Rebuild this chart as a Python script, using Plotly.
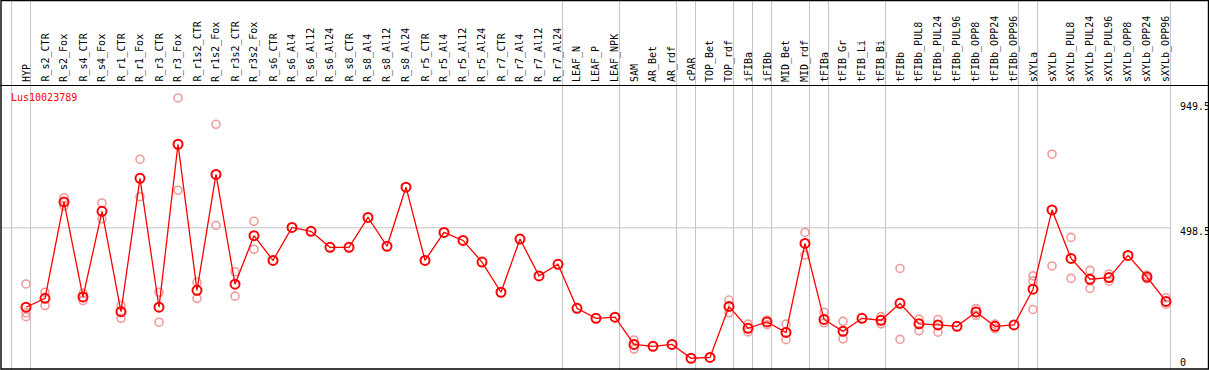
import plotly.graph_objects as go

samples = ["HYP", "R_s2_CTR", "R_s2_Fox", "R_s4_CTR", "R_s4_Fox", "R_r1_CTR", "R_r1_Fox",
           "R_r3_CTR", "R_r3_Fox", "R_r1s2_CTR", "R_r1s2_Fox", "R_r3s2_CTR", "R_r3s2_Fox",
           "R_s6_CTR", "R_s6_Al4", "R_s6_Al12", "R_s6_Al24", "R_s8_CTR", "R_s8_Al4", "R_s8_Al12",
           "R_s8_Al24", "R_r5_CTR", "R_r5_Al4", "R_r5_Al12", "R_r5_Al24", "R_r7_CTR", "R_r7_Al4",
           "R_r7_Al12", "R_r7_Al24", "LEAF_N", "LEAF_P", "LEAF_NPK", "SAM", "AR_Bet", "AR_rdf",
           "cPAR", "TOP_Bet", "TOP_rdf", "iFIBa", "iFIBb", "MID_Bet", "MID_rdf", "tFIBa",
           "tFIB_Gr", "tFIB_Li", "tFIB_Bi", "tFIBb", "tFIBb_PUL8", "tFIBb_PUL24", "tFIBb_PUL96",
           "tFIBb_OPP8", "tFIBb_OPP24", "tFIBb_OPP96", "sXYLa", "sXYLb", "sXYLb_PUL8",
           "sXYLb_PUL24", "sXYLb_PUL96", "sXYLb_OPP8", "sXYLb_OPP24", "sXYLb_OPP96"]

mean_expr = [212, 244, 592, 249, 558, 196, 677, 212, 800, 273, 691, 295, 470, 381, 500,
             486, 428, 428, 536, 432, 645, 381, 482, 453, 375, 266, 458, 325, 367,
             208, 172, 176, 78, 71, 78, 28, 31, 215, 136, 159, 121, 442, 168, 125, 172, 165, 226,
             152, 148, 143, 195, 143, 148, 277, 563, 388, 313, 319, 399, 321, 233]

N = None
rep_a = [296, 266, 607, 262, 588, 218, 746, 266, 967, 302, 872, 340, 522,
         N, N, N, N, N, N, N, N, N, N, N, N, N, N, N, N, N, N, N,
         94, N, N, N, N, 238, 151, 166, 151, 482, 194, 161, N, 178, 352,
         169, 168, N, 207, 151, N, 325, 764, 464, 345, 332, N, 327, 246]
rep_b = [192, 218, 577, 236, 531, 172, 611, 158, 634, 244, 507, 252, 421,
         N, N, N, N, N, N, N, N, N, N, N, N, N, N, N, N, N, N, N,
         61, N, N, N, N, 192, 123, 149, 95, 400, 156, 98, N, 152, 96,
         127, 122, N, 183, 135, N, 307, 361, 316, 280, 306, N, 315, 222]
rep_c = [178] + [N] * 52 + [204] + [N] * 7

# sample index before which a separator line is drawn
separators = [0, 1, 29, 32, 35, 36, 38, 39, 40, 42, 43, 46, 53, 54, 61]

y_ticks = [949.5, 498.5, 0]
gene = "Lus10023789"

W, H = 1209, 370
x_idx = list(range(len(samples)))

fig = go.Figure()
pink = "rgb(240,155,155)"
for reps in (rep_a, rep_b, rep_c):
    fig.add_trace(go.Scatter(x=x_idx, y=reps, mode="markers",
                             marker=dict(symbol="circle-open", size=8,
                                         line=dict(color=pink, width=1.6), color=pink),
                             hoverinfo="skip", showlegend=False))
fig.add_trace(go.Scatter(x=x_idx, y=mean_expr, mode="lines+markers",
                         line=dict(color="#ff0000", width=1.3),
                         marker=dict(symbol="circle-open", size=9, color="#ff0000",
                                     line=dict(color="#ee0000", width=2)),
                         showlegend=False))

shapes = []
for s in separators:
    shapes.append(dict(type="line", xref="x", yref="paper", x0=s - 0.76, x1=s - 0.76,
                       y0=0, y1=1, line=dict(color="#c4c4c4", width=1), layer="below"))
# horizontal grid line at middle tick
shapes.append(dict(type="line", xref="paper", yref="y", x0=1 / W, x1=1170.7 / W,
                   y0=498.5, y1=498.5, line=dict(color="#c4c4c4", width=1), layer="below"))
# label separator and frame
shapes.append(dict(type="line", xref="paper", yref="paper", x0=0, x1=1,
                   y0=(H - 85.5) / H, y1=(H - 85.5) / H, line=dict(color="black", width=1.2)))
shapes.append(dict(type="rect", xref="paper", yref="paper", x0=1 / W, x1=1208.5 / W,
                   y0=1 / H, y1=1 - 0.5 / H, line=dict(color="black", width=1.4)))

annotations = []
for i, name in enumerate(samples):
    annotations.append(dict(x=i, y=(H - 84) / H, xref="x", yref="paper", text=name,
                            textangle=-90, showarrow=False, xanchor="center", yanchor="bottom",
                            font=dict(family="DejaVu Sans Mono", size=10, color="black")))
for t in y_ticks:
    label = str(int(t)) if t == int(t) else str(t)
    annotations.append(dict(x=1178 / W, y=t, xref="paper", yref="y", text=label,
                            showarrow=False, xanchor="left", yanchor="middle",
                            yshift=(4 if t == 0 else -4),
                            font=dict(family="DejaVu Sans Mono", size=10, color="black")))
annotations.append(dict(x=9 / W, y=(H - 97) / H, xref="paper", yref="paper", text=gene,
                        showarrow=False, xanchor="left", yanchor="middle",
                        font=dict(family="DejaVu Sans Mono", size=10, color="#ff0000")))

x0 = -26 / 19
y_top = 366 / 0.2772
y_bot = (366 - H) / 0.2772
fig.update_layout(width=W, height=H, margin=dict(l=0, r=0, t=0, b=0),
                  paper_bgcolor="white", plot_bgcolor="white",
                  xaxis=dict(range=[x0, x0 + W / 19], visible=False, fixedrange=True),
                  yaxis=dict(range=[y_bot, y_top], visible=False, fixedrange=True),
                  shapes=shapes, annotations=annotations)

fig.write_html("out.html", config={"displayModeBar": False},
               post_script="document.body.style.margin='0';document.body.style.overflow='hidden';")
